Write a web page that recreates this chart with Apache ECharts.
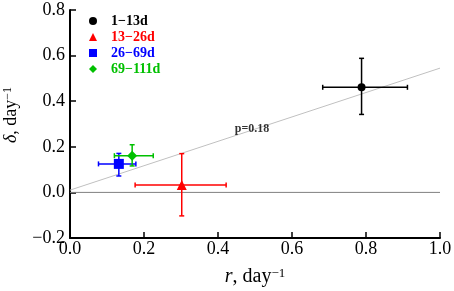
<!DOCTYPE html>
<html><head><meta charset="utf-8">
<script src="https://cdn.jsdelivr.net/npm/echarts@6/dist/echarts.min.js"></script>
<style>html,body{margin:0;padding:0;background:#fff}#c{width:454px;height:291px}</style>
</head><body><div id="c"></div>
<script>
// Data
const groupNames = ['1\u221213d', '13\u221226d', '26\u221269d', '69\u2212111d'];
const groupColors = ['#000000', '#ff0000', '#0000ff', '#00c000'];
const groupSymbols = ['circle', 'triangle', 'rect', 'diamond'];
const rValues = [0.788, 0.302, 0.132, 0.168];
const deltaValues = [0.461, 0.032, 0.125, 0.161];
const rLow = [0.683, 0.176, 0.077, 0.120];
const rHigh = [0.912, 0.422, 0.178, 0.225];
const deltaLow = [0.342, -0.103, 0.072, 0.116];
const deltaHigh = [0.588, 0.170, 0.171, 0.209];
const fitLine = [[0, 0.01], [1.0, 0.545]];
const zeroLine = [[0, 0], [1.0, 0]];
const fitText = 'p=0.18';
const fitTextPos = [0.492, 0.28];
const xTicks = [0, 0.2, 0.4, 0.6, 0.8, 1.0];
const yTicks = [-0.2, 0, 0.2, 0.4, 0.6, 0.8];

const FONT = '"Liberation Serif", "Times New Roman", serif';
const fmt = v => (v < 0 ? '\u2212' : '') + Math.abs(v).toFixed(1);

const chart = echarts.init(document.getElementById('c'), null, {renderer: 'canvas'});

const series = [
  {type: 'line', data: zeroLine, symbol: 'none', silent: true, z: 1,
   lineStyle: {color: '#808080', width: 1}},
  {type: 'line', data: fitLine, symbol: 'none', silent: true, z: 1,
   lineStyle: {color: '#c0c0c0', width: 1}},
  {type: 'scatter', data: [fitTextPos], symbolSize: 0, silent: true, z: 2,
   label: {show: true, position: 'inside', formatter: fitText,
     fontFamily: FONT, fontWeight: 'bold', fontSize: 12, color: '#000'}},
  {type: 'custom', name: 'errorbars', z: 3, silent: true,
   data: rValues.map((r, i) => [r, deltaValues[i], rLow[i], rHigh[i], deltaLow[i], deltaHigh[i], i]),
   renderItem: function (params, api) {
     const xl = api.coord([api.value(2), api.value(1)]);
     const xh = api.coord([api.value(3), api.value(1)]);
     const yl = api.coord([api.value(0), api.value(4)]);
     const yh = api.coord([api.value(0), api.value(5)]);
     const col = groupColors[api.value(6)];
     const cap = 2.5;
     const st = {stroke: col, lineWidth: 1.5};
     const L = (x1, y1, x2, y2) => ({type: 'line', shape: {x1, y1, x2, y2}, style: st});
     return {type: 'group', children: [
       L(xl[0], xl[1], xh[0], xh[1]),
       L(xl[0], xl[1] - cap, xl[0], xl[1] + cap),
       L(xh[0], xh[1] - cap, xh[0], xh[1] + cap),
       L(yl[0], yl[1], yh[0], yh[1]),
       L(yl[0] - cap, yl[1], yl[0] + cap, yl[1]),
       L(yh[0] - cap, yh[1], yh[0] + cap, yh[1])
     ]};
   }}
];
const sizes = [8, 10, 10, 10];
groupNames.forEach((n, i) => {
  series.push({type: 'scatter', name: n, z: 4, symbol: groupSymbols[i], symbolSize: sizes[i],
    itemStyle: {color: groupColors[i], opacity: 1},
    data: [[rValues[i], deltaValues[i]]]});
});

chart.setOption({
  animation: false,
  grid: {left: 70, right: 14, top: 10, bottom: 53, containLabel: false, outerBoundsMode: 'none'},
  legend: {
    orient: 'vertical', left: 89, top: 14, padding: 0, itemWidth: 8, itemHeight: 8, itemGap: 2,
    selectedMode: false,
    data: groupNames.map((n, i) => ({name: n, icon: groupSymbols[i],
      textStyle: {color: groupColors[i]}})),
    textStyle: {fontFamily: FONT, fontWeight: 'bold', fontSize: 14, lineHeight: 14, padding: [0, 0, 0, 9]}
  },
  xAxis: {
    type: 'value', min: 0, max: 1.0, interval: 0.2,
    name: '{i|r}, day{s|\u22121}', nameLocation: 'middle', nameGap: 29,
    nameTextStyle: {fontFamily: FONT, fontSize: 20, color: '#000',
      rich: {i: {fontFamily: FONT, fontSize: 20, fontStyle: 'italic', color: '#000'},
             s: {fontFamily: FONT, fontSize: 13, verticalAlign: 'top', color: '#000'}}},
    axisLine: {show: true, onZero: false, lineStyle: {color: '#000', width: 2}},
    axisTick: {show: true, inside: true, length: 6, lineStyle: {color: '#000', width: 1.5}},
    axisLabel: {formatter: fmt, fontFamily: FONT, fontSize: 18, color: '#000', margin: 2},
    splitLine: {show: false}
  },
  yAxis: {
    type: 'value', min: -0.2, max: 0.8, interval: 0.2,
    name: '{i|\u03b4}, day{s|\u22121}', nameLocation: 'middle', nameGap: 50, nameRotate: 90,
    nameTextStyle: {fontFamily: FONT, fontSize: 18, color: '#000', padding: [0, 0, 0, 18],
      rich: {i: {fontFamily: FONT, fontSize: 18, fontStyle: 'italic', color: '#000'},
             s: {fontFamily: FONT, fontSize: 12, verticalAlign: 'top', color: '#000'}}},
    axisLine: {show: true, onZero: false, lineStyle: {color: '#000', width: 2}},
    axisTick: {show: true, inside: true, length: 6, lineStyle: {color: '#000', width: 1.5}},
    axisLabel: {formatter: fmt, fontFamily: FONT, fontSize: 18, color: '#000', margin: 5},
    splitLine: {show: false}
  },
  series: series
});
</script></body></html>
